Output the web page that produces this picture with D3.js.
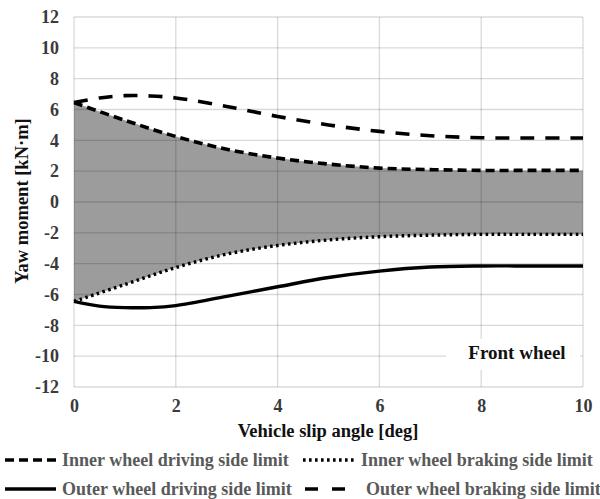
<!DOCTYPE html>
<html><head><meta charset="utf-8">
<script src="https://cdn.jsdelivr.net/npm/d3@7"></script>
<style>
html,body{margin:0;padding:0;background:#fff;}
svg{display:block;}
text{font-family:"Liberation Serif","Times New Roman",serif;font-weight:bold;}
</style></head>
<body>
<svg id="c" width="600" height="499"></svg>
<script>
// ---- data ----
const innerX = [0, 1, 2, 3, 4, 5, 6, 7, 8, 9, 10];
const innerDriving = [6.45, 5.3, 4.25, 3.42, 2.85, 2.46, 2.2, 2.1, 2.05, 2.05, 2.05];
const innerBraking = [-6.45, -5.35, -4.25, -3.38, -2.82, -2.46, -2.25, -2.15, -2.1, -2.1, -2.1];
const outerX = [0, 0.5, 1, 1.5, 2, 3, 4, 5, 6, 7, 8, 9, 10];
const outerBraking = [6.45, 6.75, 6.9, 6.88, 6.75, 6.2, 5.55, 5.0, 4.58, 4.3, 4.17, 4.15, 4.15];
const outerDriving = [-6.45, -6.75, -6.85, -6.85, -6.72, -6.12, -5.5, -4.9, -4.48, -4.22, -4.15, -4.15, -4.15];
const xTicks = [0, 2, 4, 6, 8, 10];
const yTicks = [-12, -10, -8, -6, -4, -2, 0, 2, 4, 6, 8, 10, 12];
const legendLabels = ["Inner wheel driving side limit", "Inner wheel braking side limit",
                      "Outer wheel driving side limit", "Outer wheel braking side limit"];
const xTitle = "Vehicle slip angle [deg]";
const yTitle = "Yaw moment [kN·m]";
const noteLabel = "Front wheel";

// ---- layout ----
const svg = d3.select("#c");
const x = d3.scaleLinear().domain([0, 10]).range([74, 583]);
const y = d3.scaleLinear().domain([-12, 12]).range([387, 17]);

const styles = {
  innerDriving: {dash: "9,5", w: 3.6},
  innerBraking: {dash: "2.6,3.4", w: 3.4},
  outerDriving: {dash: null, w: 3.4},
  outerBraking: {dash: "14,11", w: 3.6}
};

// fill between inner limits
const area = d3.area()
  .x((d, i) => x(innerX[i]))
  .y0((d, i) => y(innerBraking[i]))
  .y1((d, i) => y(innerDriving[i]))
  .curve(d3.curveCatmullRom);
svg.append("path").attr("d", area(innerX)).attr("fill", "#9c9c9c");

// gridlines
const grid = svg.append("g").attr("stroke", "rgba(0,0,0,0.15)").attr("stroke-width", 1.3);
yTicks.forEach(t => grid.append("line").attr("x1", x(0)).attr("x2", x(10))
  .attr("y1", y(t)).attr("y2", y(t)));
xTicks.forEach(t => grid.append("line").attr("y1", y(-12)).attr("y2", y(12))
  .attr("x1", x(t)).attr("x2", x(t)));

// axes (labels only)
const fmt = d => String(d);
const yAxis = d3.axisLeft(y).tickValues(yTicks).tickSize(0).tickPadding(0).tickFormat(fmt);
const gy = svg.append("g").attr("transform", "translate(59,0)").call(yAxis);
gy.select(".domain").remove();
gy.selectAll("text").attr("font-size", 18).attr("fill", "#3a3a3a")
  .style("font-family", "'Liberation Serif',serif").style("font-weight", "bold");

const xAxis = d3.axisBottom(x).tickValues(xTicks).tickSize(0).tickPadding(0).tickFormat(fmt);
const gx = svg.append("g").attr("transform", "translate(0,399)").call(xAxis);
gx.select(".domain").remove();
gx.selectAll("text").attr("font-size", 18).attr("fill", "#3a3a3a")
  .style("font-family", "'Liberation Serif',serif").style("font-weight", "bold");

// lines
function drawLine(xs, ys, st) {
  const line = d3.line().x((d, i) => x(xs[i])).y((d, i) => y(ys[i])).curve(d3.curveCatmullRom);
  const p = svg.append("path").attr("d", line(xs)).attr("fill", "none")
    .attr("stroke", "#000").attr("stroke-width", st.w);
  if (st.dash) p.attr("stroke-dasharray", st.dash);
}
drawLine(innerX, innerDriving, styles.innerDriving);
drawLine(innerX, innerBraking, styles.innerBraking);
drawLine(outerX, outerBraking, styles.outerBraking);
drawLine(outerX, outerDriving, styles.outerDriving);

// note box
svg.append("rect").attr("x", 446).attr("y", 339).attr("width", 134).attr("height", 31).attr("fill", "#fff");
svg.append("text").attr("x", 517).attr("y", 359).attr("text-anchor", "middle")
  .attr("font-size", 19).attr("fill", "#111").text(noteLabel);

// axis titles
svg.append("text").attr("x", 328).attr("y", 437).attr("text-anchor", "middle")
  .attr("font-size", 18.5).attr("fill", "#111").text(xTitle);
svg.append("text").attr("transform", "translate(28,201) rotate(-90)").attr("text-anchor", "middle")
  .attr("font-size", 18.5).attr("fill", "#111").text(yTitle);

// legend
const leg = [
  {x0: 5, x1: 58, ty: 460, tx: 62, st: styles.innerDriving, label: legendLabels[0]},
  {x0: 303, x1: 356, ty: 460, tx: 361, st: styles.innerBraking, label: legendLabels[1]},
  {x0: 5, x1: 56, ty: 489, tx: 62, st: styles.outerDriving, label: legendLabels[2]},
  {x0: 305, x1: 345, ty: 489, tx: 366, st: {dash: "13,14", w: 3.6}, label: legendLabels[3]}
];
leg.forEach(l => {
  const ln = svg.append("line").attr("x1", l.x0).attr("x2", l.x1).attr("y1", l.ty).attr("y2", l.ty)
    .attr("stroke", "#000").attr("stroke-width", l.st.w);
  if (l.st.dash) ln.attr("stroke-dasharray", l.st.dash);
  svg.append("text").attr("x", l.tx).attr("y", l.ty + 6).attr("font-size", 18)
    .attr("fill", "#595959").text(l.label);
});
</script>
</body></html>
